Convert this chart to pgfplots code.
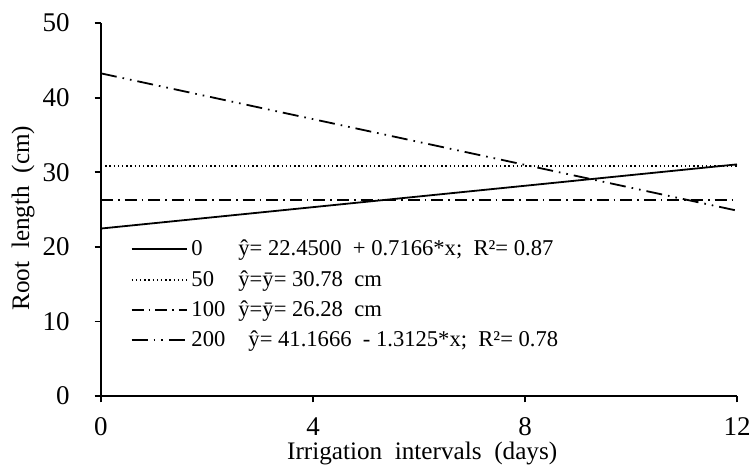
\documentclass[border=0pt]{standalone}
\usepackage{fontspec}
\setmainfont{Liberation Serif}
\usepackage{pgfplots}
\pgfplotsset{compat=1.18}
\begin{document}
\begin{tikzpicture}
\useasboundingbox (-50.5pt,-38.5pt) rectangle (324.5pt,198pt);
\begin{axis}[
  at={(0pt,0pt)}, anchor=south west,
  scale only axis,
  width=318pt, height=186.5pt,
  xmin=0, xmax=12, ymin=0, ymax=50,
  xtick={0,4,8,12}, ytick={0,10,20,30,40,50},
  axis lines*=left,
  axis line style={line width=0.9pt},
  tick style={line width=0.9pt, black},
  tick align=outside,
  major tick length=3.2pt,
  /pgf/number format/assume math mode=true,
  ticklabel style={font=\fontsize{13.5}{15}\selectfont},
  xticklabel style={yshift=-4pt},
  yticklabel style={xshift=-9pt},
  xlabel={Irrigation\ \ intervals\ \ (days)},
  ylabel={Root\ \ length\ \ (cm)},
  label style={font=\fontsize{12.6}{14}\selectfont},
  xlabel style={at={(axis description cs:0.505,-0.153)}, anchor=center},
  ylabel style={at={(axis description cs:-0.1226,0.477)}, anchor=center},
  legend style={at={(0.046,0.43)}, anchor=north west, draw=none, fill=none,
    font=\fontsize{11.3}{13}\selectfont, row sep=1.8pt, inner sep=0pt,
    legend cell align=left},
  legend image code/.code={\draw[#1] (0pt,0pt) -- (27.5pt,0pt);},
]
\addplot[black, line width=0.9pt] coordinates {(0,22.45) (12,31.05)};
\addlegendentry{\makebox[23.5pt][l]{0}ŷ= 22.4500\ \ + 0.7166*x;\ \ R²= 0.87}
\addplot[black, line width=0.8pt, dash pattern=on 0.7pt off 1.4pt] coordinates {(0,30.8) (12,30.8)};
\addlegendentry{\makebox[23.5pt][l]{50}ŷ=ȳ= 30.78\ \ cm}
\addplot[black, line width=0.9pt, dash pattern=on 6pt off 2.5pt on 0.8pt off 2.5pt] coordinates {(0,26.3) (12,26.3)};
\addlegendentry{\makebox[23.5pt][l]{100}ŷ=ȳ= 26.28\ \ cm}
\addplot[black, line width=0.9pt, dash pattern=on 8pt off 3pt on 0.8pt off 3pt on 0.8pt off 3pt] coordinates {(0,43.25) (12,24.85)};
\addlegendentry{\makebox[28.5pt][l]{200}ŷ= 41.1666\ \ - 1.3125*x;\ \ R²= 0.78}
\end{axis}
\end{tikzpicture}
\end{document}
